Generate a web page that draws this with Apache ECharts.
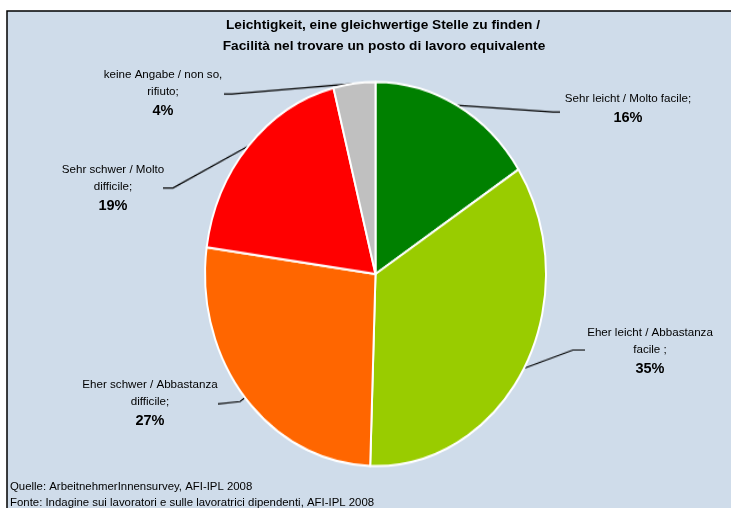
<!DOCTYPE html>
<html>
<head>
<meta charset="utf-8">
<title>Leichtigkeit, eine gleichwertige Stelle zu finden</title>
<style>
  html, body { margin: 0; padding: 0; background: #fff; }
  #wrap { position: relative; width: 731px; height: 508px; overflow: hidden; }
  #base, #pie { position: absolute; left: 0; top: 0; width: 731px; height: 508px; }
  /* the original pie is stretched vertically, so the pie layer is scaled around its centre */
  #pie { transform: scaleY(1.126); transform-origin: 0 274px; }
</style>
</head>
<body>
<div id="wrap"><div id="base"></div><div id="pie"></div></div>
<script src="https://cdn.jsdelivr.net/npm/echarts@6.0.0/dist/echarts.min.js"></script>
<script>
const categories = [
  'Sehr leicht / Molto facile;',
  'Eher leicht / Abbastanza\nfacile ;',
  'Eher schwer / Abbastanza\ndifficile;',
  'Sehr schwer / Molto\ndifficile;',
  'keine Angabe / non so,\nrifiuto;'
];
const shares = [16, 35, 27, 19, 4];
const titleLines = [
  'Leichtigkeit, eine gleichwertige Stelle zu finden /',
  'Facilità nel trovare un posto di lavoro equivalente'
];
const sourceLines = [
  'Quelle: ArbeitnehmerInnensurvey, AFI-IPL 2008',
  'Fonte: Indagine sui lavoratori e sulle lavoratrici dipendenti, AFI-IPL 2008'
];

const colors = ['#008000', '#99cc00', '#ff6600', '#ff0000', '#c0c0c0'];
const FONT = "'Liberation Sans', Arial, sans-serif";
const CX = 375.5, CY = 274, R = 170.5, SY = 192 / 170.5;

// label centres and leader line ends, in page pixels
const labelAt = [[628, 109], [650, 352], [150, 404], [113, 189], [163, 94]];
const lineEnd = [
  [[553, 112], [560, 112]],
  [[573, 350], [585, 350]],
  [[240, 401.5], [218, 404]],
  [[173, 188], [163, 188]],
  [[232, 94], [224, 94]]
];

const data = categories.map((name, i) => ({ name: name, value: shares[i] }));

function text(str, x, y, size, bold, align) {
  return {
    type: 'text', x: x, y: y, silent: true,
    style: {
      text: str, fill: '#000',
      font: (bold ? 'bold ' : '') + size + 'px ' + FONT,
      align: align, textAlign: align,
      verticalAlign: 'middle', textVerticalAlign: 'middle'
    }
  };
}

// background layer: panel, title, sources and label texts
let base = echarts.init(document.getElementById('base'));
base.setOption({
  animation: false,
  graphic: [
    { type: 'rect', silent: true, z: -10,
      shape: { x: 7, y: 11, width: 740, height: 510 },
      style: { fill: '#cfdcea', stroke: '#000', lineWidth: 1.5 } },
    text(titleLines[0], 383, 25, 13.7, true, 'center'),
    text(titleLines[1], 384, 46, 13.7, true, 'center'),
    text(sourceLines[0], 10, 487, 11.4, false, 'left'),
    text(sourceLines[1], 10, 503, 11.4, false, 'left')
  ],
  series: [{
    type: 'pie',
    silent: true,
    center: [CX, CY],
    radius: R,
    data: data,
    itemStyle: { color: 'rgba(0,0,0,0)' },
    label: {
      show: true,
      formatter: p => '{t|' + p.name.split('\n').join('}\n{t|') + '}\n{p|' + p.value + '%}',
      rich: {
        t: { fontFamily: FONT, fontSize: 11.6, lineHeight: 17, color: '#000', align: 'center' },
        p: { fontFamily: FONT, fontSize: 14.5, fontWeight: 'bold', lineHeight: 21, color: '#000', align: 'center' }
      }
    },
    labelLine: { show: false },
    labelLayout: p => ({
      x: labelAt[p.dataIndex][0],
      y: labelAt[p.dataIndex][1],
      align: 'center',
      verticalAlign: 'middle'
    })
  }]
});

// pie layer: slices and leader lines
let pie = echarts.init(document.getElementById('pie'));
pie.setOption({
  animation: false,
  series: [{
    type: 'pie',
    silent: true,
    center: [CX, CY],
    radius: R,
    data: data,
    itemStyle: {
      color: p => colors[p.dataIndex],
      borderColor: '#fff',
      borderWidth: 2
    },
    label: { show: true, formatter: '{b}', color: 'rgba(0,0,0,0)' },
    labelLine: { show: true, length: 10, length2: 10, lineStyle: { color: '#000', width: 1.2 } },
    labelLayout: p => {
      let pts = lineEnd[p.dataIndex].map(pt => [pt[0], CY + (pt[1] - CY) / SY]);
      return { labelLinePoints: [p.labelLinePoints[0]].concat(pts) };
    }
  }]
});
</script>
</body>
</html>
